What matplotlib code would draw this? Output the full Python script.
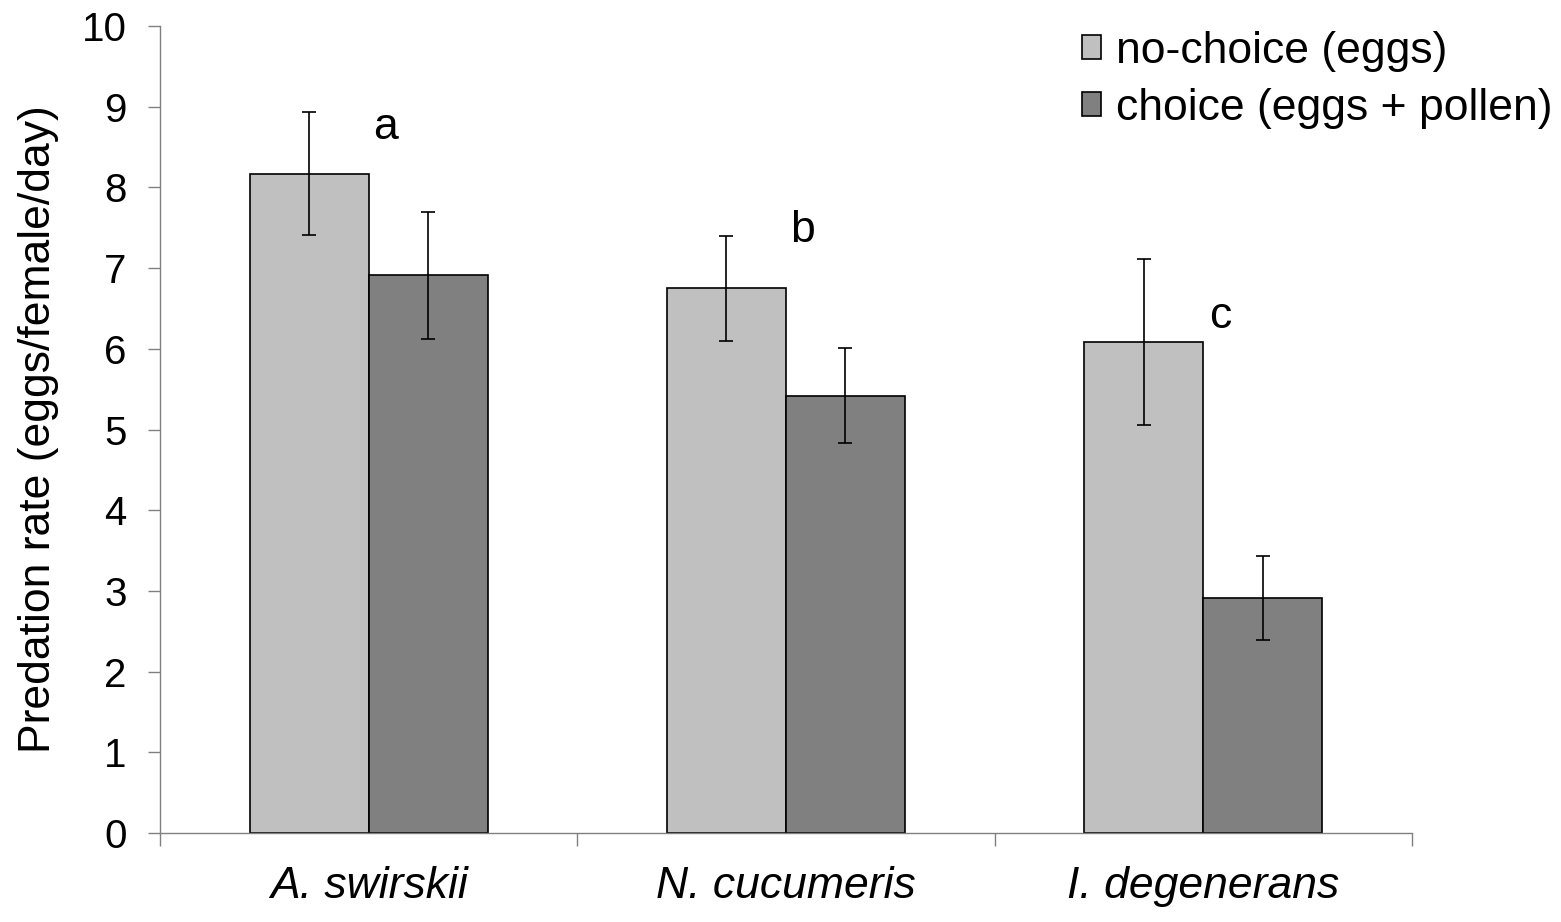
import numpy as np
import matplotlib.pyplot as plt

plt.rcParams['font.family'] = ['Liberation Sans', 'DejaVu Sans']

species = ['A. swirskii', 'N. cucumeris', 'I. degenerans']
no_choice = [8.17, 6.75, 6.08]
no_choice_err = [0.76, 0.65, 1.03]
choice = [6.91, 5.42, 2.91]
choice_err = [0.79, 0.59, 0.52]
letters = ['a', 'b', 'c']
letter_y = [8.6, 7.32, 6.26]

fig = plt.figure(figsize=(15.61, 9.22), dpi=100)
ax = fig.add_axes([0.1025, 0.0965, 0.802, 0.8753])

x = np.arange(len(species))
w = 0.285
err_kw = dict(ecolor='black', elinewidth=1.2, capsize=5, capthick=1.2)
ax.bar(x - w / 2, no_choice, w, yerr=no_choice_err, color='#c0c0c0',
       edgecolor='black', linewidth=1.2, label='no-choice (eggs)', error_kw=err_kw)
ax.bar(x + w / 2, choice, w, yerr=choice_err, color='#808080',
       edgecolor='black', linewidth=1.2, label='choice (eggs + pollen)', error_kw=err_kw)

for i, (lt, ly) in enumerate(zip(letters, letter_y)):
    ax.text(i + 0.04, ly, lt, fontsize=32, ha='center', va='baseline')

ax.set_xlim(-0.5, 2.5)
ax.set_ylim(0, 10)
ax.set_yticks(range(0, 11))
ax.tick_params(axis='y', labelsize=29, direction='out', length=9, width=1, color='#808080', pad=15)

ax.set_xticks([-0.5, 0.5, 1.5, 2.5])
ax.set_xticklabels([])
ax.tick_params(axis='x', which='major', direction='out', length=9, width=1, color='#808080')
ax.set_xticks(x, minor=True)
ax.set_xticklabels(species, minor=True, fontsize=32, style='italic')
ax.tick_params(axis='x', which='minor', length=0, pad=24)

for s in ['top', 'right']:
    ax.spines[s].set_visible(False)
for s in ['left', 'bottom']:
    ax.spines[s].set_color('#808080')
    ax.spines[s].set_linewidth(1)

ax.set_ylabel('Predation rate (eggs/female/day)', fontsize=32, labelpad=16)

ax.legend(loc='upper left', bbox_to_anchor=(0.722, 1.016), frameon=False, fontsize=32,
          handlelength=0.43, handleheight=0.43, handletextpad=0.35, labelspacing=0.36,
          borderaxespad=0)

fig.savefig('out.png', dpi=100)
